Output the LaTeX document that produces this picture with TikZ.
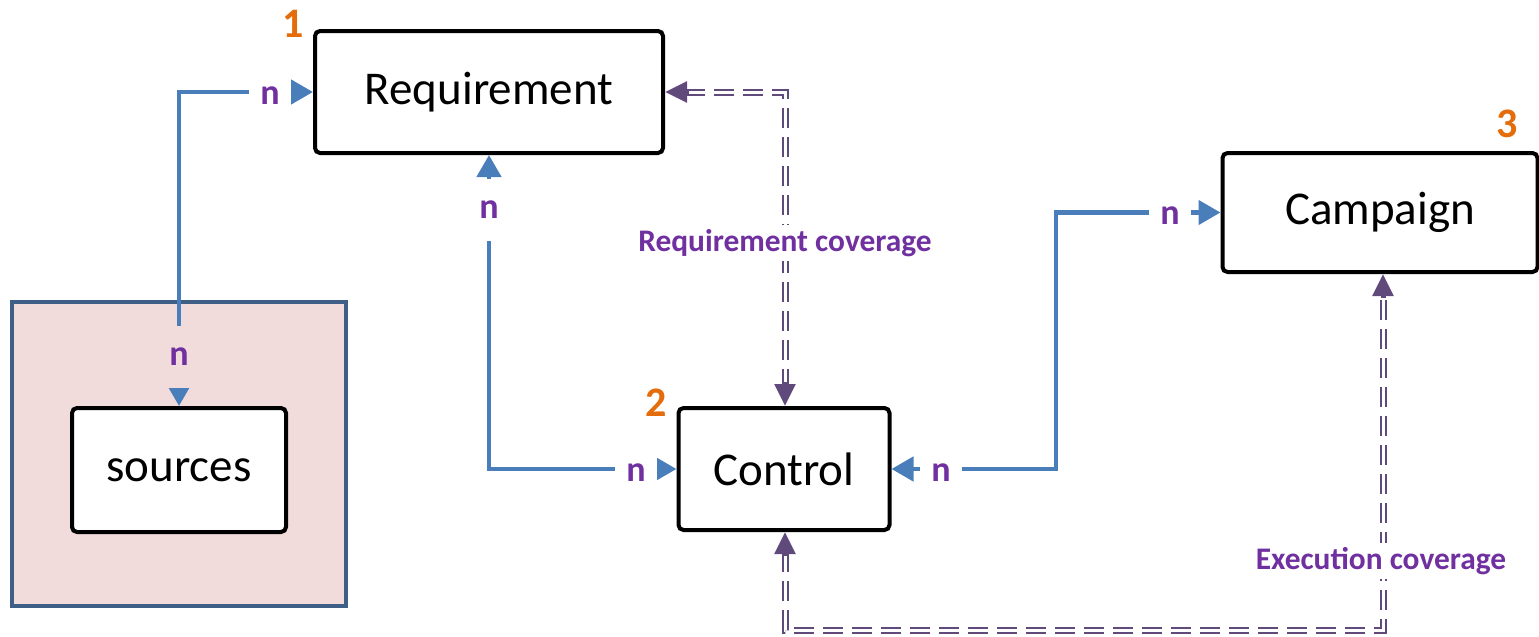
\documentclass[tikz,border=0pt]{standalone}
\usepackage{fontspec}
\setmainfont{Carlito}
\usetikzlibrary{arrows.meta}
\definecolor{cblue}{RGB}{74,126,187}
\definecolor{cpurp}{RGB}{96,73,123}
\definecolor{ctext}{RGB}{112,48,160}
\definecolor{corange}{RGB}{228,108,10}
\definecolor{cpink}{RGB}{242,220,219}
\definecolor{cframe}{RGB}{63,95,134}
\tikzset{
  entity/.style={draw=black, line width=2pt, rounded corners=2.5pt, fill=white, inner sep=0pt, font=\fontsize{23.5}{28}\selectfont},
  bluelink/.style={draw=cblue, line width=2.3pt, {Triangle[length=11pt,width=12pt]}-{Triangle[length=11pt,width=12pt]}},
  mult/.style={text=ctext, font=\bfseries\fontsize{18}{21}\selectfont, fill=white, inner xsep=5.5pt, inner ysep=11pt},
  covlink/.style={draw=cpurp, line width=1pt, double=white, double distance=1.5pt, dash pattern=on 10pt off 4.5pt},
  covtip/.style={draw=cpurp, line width=2.5pt, -{Triangle[length=11pt,width=10pt]}},
  covlabel/.style={text=ctext, font=\bfseries\fontsize{15.7}{19}\selectfont, fill=white, inner sep=2pt},
  num/.style={text=corange, font=\bfseries\fontsize{21}{25}\selectfont, inner sep=0pt}
}
\begin{document}
\begin{tikzpicture}[x=0.5pt,y=-0.5pt]
\useasboundingbox (0,0) rectangle (1539,637);
% frame around sources
\node[draw=cframe, fill=cpink, line width=2pt, minimum width=167pt, minimum height=152pt, inner sep=0pt] (frame) at (179,454) {};
% entities
\node[entity, minimum width=174pt, minimum height=61pt] (req) at (489,92) {Requirement};
\node[entity, minimum width=105.5pt, minimum height=61pt] (ctl) at (784,469) {Control};
\node[entity, minimum width=157.5pt, minimum height=59.5pt] (camp) at (1380,212.5) {Campaign};
\node[entity, minimum width=107pt, minimum height=62pt] (src) at (179,470) {sources};
% numbers
\node[num] (n1) at (293,24) {1};
\node[num] (n2) at (656,403) {2};
\node[num] (n3) at (1507,124) {3};
% helper coordinates
\coordinate (k1) at (1056,0);
\coordinate (rc) at (785,0);
\coordinate (ec) at (1383,0);
\coordinate (bot) at (0,630);
% blue links
\draw[bluelink] (src.north) -- (src.north |- req.west) -- (req.west);
\draw[bluelink] (req.south) -- (req.south |- ctl.west) -- (ctl.west);
\draw[bluelink] (ctl.east) -- (ctl.east -| k1) -- (k1 |- camp.west) -- (camp.west);
% multiplicities
\node[mult] (m1) at (270,96) {n};
\node[mult, fill=cpink] (m2) at (179,357) {n};
\node[mult] (m3) at (489,210) {n};
\node[mult] (m4) at (636,473) {n};
\node[mult] (m5) at (941,473) {n};
\node[mult] (m6) at (1170,216) {n};
% coverage links
\draw[covlink, shorten <=10pt, shorten >=10pt] (req.east) -- (req.east -| rc) -- (rc |- ctl.north);
\draw[covtip] ([xshift=12pt]req.east) -- (req.east);
\draw[covtip] ([yshift=12pt]rc |- ctl.north) -- (rc |- ctl.north);
\draw[covlink, shorten <=10pt, shorten >=10pt] (rc |- ctl.south) -- (rc |- bot) -- (ec |- bot) -- (ec |- camp.south);
\draw[covtip] ([yshift=-12pt]rc |- ctl.south) -- (rc |- ctl.south);
\draw[covtip] ([yshift=-12pt]ec |- camp.south) -- (ec |- camp.south);
\node[covlabel] (l1) at (785,243) {Requirement coverage};
\node[covlabel] (l2) at (1381,561) {Execution coverage};
\end{tikzpicture}
\end{document}
